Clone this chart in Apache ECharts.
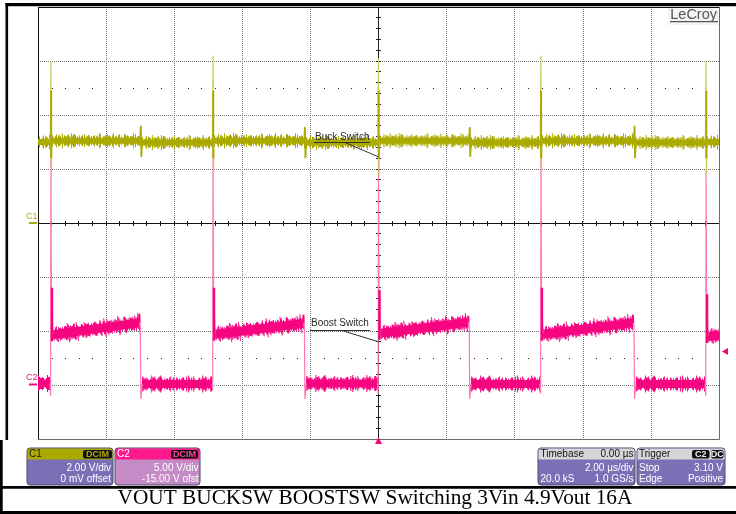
<!DOCTYPE html>
<html>
<head>
<meta charset="utf-8">
<title>VOUT BUCKSW BOOSTSW Switching 3Vin 4.9Vout 16A</title>
<script src="https://cdn.jsdelivr.net/npm/echarts@6/dist/echarts.min.js"></script>
<style>
  html, body { margin: 0; padding: 0; background: #fff; }
  #scope { width: 736px; height: 514px; }
</style>
</head>
<body>
<div id="scope"></div>
<script>
// ---- Scales: 2.00 us/div over 10 div, trigger at centre
const timeRangeUs = [-10, 10];
const timeDivUs = 2;
// C1: 2.00 V/div, 0 mV offset  -> centre = 0 V
const c1RangeV = [-8, 8];
const c1DivV = 2;
// C2: 5.00 V/div, -15.00 V offset -> centre = 15 V
const c2RangeV = [-5, 35];
const c2DivV = 5;

// ---- C2 "Boost Switch": switching edge times (us)
const c2RiseUs = [-9.62, -4.86, 0.0, 4.77, 9.62];
const c2FallUs = [-6.98, -2.16, 2.68, 7.52];
// plateau levels (V)
const c2LowV = [0.15, 0.1, 0.15, 0.1, 0.1];
const c2HighStartV = [4.65, 4.7, 4.8, 4.7, 4.5];
const c2HighEndV = [5.75, 5.7, 5.8, 5.75, 4.6];
// edge excursions (V)
const c2RisePeakV = [21.5, 21.5, 21.2, 21.5, 20.0];
const c2RiseRingV = [9.0, 9.0, 8.8, 9.0, 8.4];
const c2RiseDipV = [-1.0, -0.5, -0.8, -0.8, -1.0];
const c2FallPeakV = [6.6, 6.5, 6.4, 6.5];
const c2FallDipV = [-1.3, -1.3, -1.3, -1.3];

// ---- C1 "Buck Switch": level per interval between edges (V)
const c1LevelV = [3.0, 3.05, 2.98, 3.05, 2.98, 3.05, 2.98, 3.05, 2.98, 3.0];
const c1SpikeTopV = [6.0, 6.2, 6.1, 6.2, 6.0];
const c1SpikeLowV = [1.8, 1.8, 1.7, 1.8, 1.8];
const c1BlipTopV = [3.6, 3.55, 3.55, 3.6];
const c1BlipLowV = [2.45, 2.4, 2.45, 2.4];

// ---- Readout panels
const c1Panel = ['2.00 V/div', '0 mV offset'];
const c2Panel = ['5.00 V/div', '-15.00 V ofst'];
const timebasePanel = { head: ['Timebase', '0.00 \u00b5s'], rows: [['', '2.00 \u00b5s/div'], ['20.0 kS', '1.0 GS/s']] };
const triggerPanel = { head: ['Trigger'], badges: ['C2', 'DC'], rows: [['Stop', '3.10 V'], ['Edge', 'Positive']] };
const triggerLevelV = 3.10;
const captionText = 'VOUT BUCKSW BOOSTSW Switching 3Vin 4.9Vout 16A';

const SANS = '"Liberation Sans", Arial, sans-serif';
const SERIF = '"Liberation Serif", "Times New Roman", serif';
const C1_COL = '#aaaa00', C1_THIN = '#cbcb58';
const C2_COL = '#f70580', C2_THIN = '#ff74b6';

// irregular stroke patterns that give the trace bands a ragged, noisy edge
const DASH_DENSE = [1, 1, 2, 1, 1, 2, 1, 3, 2, 1, 1, 1, 3, 2];
const DASH_MID = [1, 3, 1, 2, 1, 5, 2, 4, 1, 2, 1, 7];
const DASH_SPARSE = [1, 6, 1, 11, 1, 4, 2, 9, 1, 15];
const DASH_RARE = [1, 19, 1, 8, 1, 27, 1, 13];

// ---------------------------------------------------------------
const chart = echarts.init(document.getElementById('scope'), null, { renderer: 'canvas' });

function linesSeries(yAxisIndex, coordsList, style, z) {
  return {
    type: 'lines', coordinateSystem: 'cartesian2d',
    xAxisIndex: 0, yAxisIndex: yAxisIndex, polyline: true,
    silent: true, animation: false, z: z || 2,
    lineStyle: Object.assign({ cap: 'butt', opacity: 1, curveness: 0 }, style),
    data: coordsList.map(c => ({ coords: c }))
  };
}

// noisy trace band: solid core plus ragged stripes around it
function bandSeries(yAxisIndex, segs, color, coreW, fringes, z) {
  const out = [linesSeries(yAxisIndex, segs, { color: color, width: coreW }, z)];
  fringes.forEach(f => out.push(linesSeries(yAxisIndex, segs,
    { color: color, width: f[0], type: f[1], dashOffset: f[2] || 0 }, z)));
  return out;
}

// C2 plateaus
const c2LowSegs = c2RiseUs.map((tr, i) => {
  const t0 = i === 0 ? timeRangeUs[0] : c2FallUs[i - 1] + 0.04;
  return [[t0, c2LowV[i]], [tr - 0.03, c2LowV[i]]];
});
const c2HighSegs = c2RiseUs.map((tr, i) => {
  const t1 = i < c2FallUs.length ? c2FallUs[i] - 0.05 : timeRangeUs[1];
  return [[tr + 0.06, c2HighStartV[i]], [t1, c2HighEndV[i]]];
});
// C2 edges
const c2RiseThin = c2RiseUs.map((t, i) => [[t - 0.03, c2LowV[i]], [t - 0.01, c2RiseDipV[i]], [t, c2RisePeakV[i]],
  [t + 0.015, c2RiseRingV[i]], [t + 0.06, c2HighStartV[i]]]);
const c2RiseRing = c2RiseUs.map((t, i) => [[t + 0.03, c2RiseRingV[i]], [t + 0.03, c2HighStartV[i] - 0.6]]);
const c2FallThin = c2FallUs.map((t, i) => [[t - 0.05, c2HighEndV[i]], [t - 0.035, c2FallPeakV[i]],
  [t - 0.015, c2HighEndV[i] - 0.5], [t, c2FallDipV[i]], [t + 0.04, c2LowV[i + 1]]]);
const c2FallSpike = c2FallUs.map((t, i) => [[t - 0.045, c2HighEndV[i]], [t - 0.045, c2FallPeakV[i]]]);

// C1 intervals between the switching events
const c1Bounds = [timeRangeUs[0]];
c2RiseUs.forEach((t, i) => { c1Bounds.push(t); if (i < c2FallUs.length) c1Bounds.push(c2FallUs[i]); });
c1Bounds.push(timeRangeUs[1]);
const c1BandSegs = c1LevelV.map((v, k) => [[c1Bounds[k], v], [c1Bounds[k + 1], v]]);
const c1SpikeThin = c2RiseUs.map((t, i) => {
  const L = c1LevelV[2 * i];
  return [[t - 0.02, L], [t, c1SpikeTopV[i]], [t + 0.012, c1SpikeLowV[i]], [t + 0.03, L]];
});
const c1SpikeCore = c2RiseUs.map(t => [[t + 0.006, 4.9], [t + 0.006, 2.4]]);
const c1Blips = c2FallUs.map((t, i) => {
  const L = c1LevelV[2 * i + 1];
  return [[t - 0.02, L], [t, c1BlipTopV[i]], [t + 0.015, c1BlipLowV[i]], [t + 0.035, L]];
});

const series = []
  .concat(bandSeries(1, c2LowSegs, C2_COL, 8, [[11, DASH_DENSE], [13, DASH_MID, 3], [15, DASH_SPARSE, 7], [17, DASH_RARE, 11]], 3))
  .concat(bandSeries(1, c2HighSegs, C2_COL, 9, [[12, DASH_DENSE, 5], [14, DASH_MID, 1], [16, DASH_SPARSE, 3], [19, DASH_RARE, 5]], 3))
  .concat([
    linesSeries(1, c2RiseThin, { color: C2_THIN, width: 1.2 }, 4),
    linesSeries(1, c2FallThin, { color: C2_THIN, width: 1.2 }, 4),
    linesSeries(1, c2RiseRing, { color: C2_COL, width: 2.4 }, 4),
    linesSeries(1, c2FallSpike, { color: C2_COL, width: 2 }, 4)
  ])
  .concat(bandSeries(0, c1BandSegs, C1_COL, 6, [[9, DASH_DENSE, 4], [11, DASH_MID, 6], [13, DASH_SPARSE, 2], [15, DASH_RARE, 9]], 5))
  .concat([
    linesSeries(0, c1SpikeThin, { color: C1_THIN, width: 1.2 }, 6),
    linesSeries(0, c1SpikeCore, { color: C1_COL, width: 2 }, 6),
    linesSeries(0, c1Blips, { color: C1_COL, width: 1.8 }, 6)
  ]);

const gridLine = { show: true, lineStyle: { color: '#707070', width: 1, type: [1, 1] } };

chart.setOption({
  backgroundColor: '#ffffff',
  animation: false,
  grid: { left: 38, top: 7, width: 681, height: 432, containLabel: false },
  xAxis: {
    type: 'value', min: timeRangeUs[0], max: timeRangeUs[1], interval: timeDivUs,
    axisLine: { show: false }, axisTick: { show: false }, axisLabel: { show: false },
    splitLine: gridLine
  },
  yAxis: [
    { type: 'value', min: c1RangeV[0], max: c1RangeV[1], interval: c1DivV,
      axisLine: { show: false }, axisTick: { show: false }, axisLabel: { show: false },
      splitLine: gridLine },
    { type: 'value', min: c2RangeV[0], max: c2RangeV[1], interval: c2DivV, show: false,
      splitLine: { show: false } }
  ],
  series: series
});

// ---- screen furniture drawn in pixel space from the axes
function px(t, v, yi) { return chart.convertToPixel({ xAxisIndex: 0, yAxisIndex: yi }, [t, v]); }
const G = [];
const [gx0, gy0] = px(timeRangeUs[0], c1RangeV[1], 0);
const [gx1, gy1] = px(timeRangeUs[1], c1RangeV[0], 0);
const [cx, cy] = px(0, 0, 0);
const crisp = v => Math.round(v - 0.5) + 0.5;

// dot rows 2.5 div above and below centre
[2.5 * c1DivV, -2.5 * c1DivV].forEach(v => {
  const y = Math.round(px(0, v, 0)[1]);
  for (let k = 1; k < 50; k++) {
    if (k % 5 === 0) continue;
    const x = Math.round(px(timeRangeUs[0] + k * timeDivUs / 5, 0, 0)[0]);
    G.push({ type: 'rect', z: 1, silent: true, shape: { x: x, y: y, width: 1, height: 1 }, style: { fill: '#222' } });
  }
});

// centre cross with minor ticks
const ccx = crisp(cx), ccy = crisp(cy);
G.push({ type: 'line', z: 1, silent: true, shape: { x1: gx0, y1: ccy, x2: gx1, y2: ccy }, style: { stroke: '#111', lineWidth: 1 } });
G.push({ type: 'line', z: 1, silent: true, shape: { x1: ccx, y1: gy0, x2: ccx, y2: gy1 }, style: { stroke: '#222', lineWidth: 1 } });
for (let k = 1; k < 50; k++) {
  const x = crisp(px(timeRangeUs[0] + k * timeDivUs / 5, 0, 0)[0]);
  G.push({ type: 'line', z: 1, silent: true, shape: { x1: x, y1: ccy - 2.5, x2: x, y2: ccy + 2.5 }, style: { stroke: '#111', lineWidth: 1 } });
}
for (let k = 1; k < 40; k++) {
  const y = crisp(px(0, c1RangeV[0] + k * c1DivV / 5, 0)[1]);
  G.push({ type: 'line', z: 1, silent: true, shape: { x1: ccx - 2.5, y1: y, x2: ccx + 2.5, y2: y }, style: { stroke: '#222', lineWidth: 1 } });
}

// graticule frame
G.push({ type: 'rect', z: 1, silent: true, shape: { x: crisp(gx0), y: crisp(gy0), width: Math.round(gx1 - gx0), height: Math.round(gy1 - gy0) },
  style: { fill: null, stroke: '#6a6a6a', lineWidth: 1 } });
G.push({ type: 'line', z: 1, silent: true, shape: { x1: crisp(gx0), y1: gy0, x2: crisp(gx0), y2: gy1 }, style: { stroke: '#111', lineWidth: 1 } });
G.push({ type: 'line', z: 1, silent: true, shape: { x1: gx0, y1: crisp(gy0), x2: gx1, y2: crisp(gy0) }, style: { stroke: '#111', lineWidth: 1 } });

// channel ground markers
const c1g = px(0, 0, 0)[1], c2g = px(0, 0, 1)[1];
G.push({ type: 'text', z: 10, silent: true, style: { text: 'C1', x: 26, y: c1g - 6.5, fill: C1_COL, font: '9px ' + SANS, verticalAlign: 'middle' } });
G.push({ type: 'rect', z: 10, silent: true, shape: { x: 29, y: c1g - 1, width: 8, height: 2 }, style: { fill: C1_COL } });
G.push({ type: 'text', z: 10, silent: true, style: { text: 'C2', x: 26, y: c2g - 7, fill: C2_COL, font: '9px ' + SANS, verticalAlign: 'middle' } });
G.push({ type: 'rect', z: 10, silent: true, shape: { x: 29, y: c2g - 1.5, width: 8, height: 2 }, style: { fill: C2_COL } });

// trigger level (right) and trigger position (bottom)
const trigY = px(0, triggerLevelV, 1)[1];
G.push({ type: 'polygon', z: 10, silent: true, shape: { points: [[gx1 + 3, trigY], [gx1 + 9, trigY - 3.5], [gx1 + 9, trigY + 3.5]] }, style: { fill: C2_COL } });
G.push({ type: 'polygon', z: 10, silent: true, shape: { points: [[cx, gy1 - 2], [cx - 3.5, gy1 + 5], [cx + 3.5, gy1 + 5]] }, style: { fill: C2_COL } });

// trace annotations
function callout(label, tx, ty, ulx1, ulx2, uly, lx1, ly1, lx2, ly2) {
  G.push({ type: 'text', z: 11, silent: true, style: { text: label, x: tx, y: ty, fill: '#2a2a2a', font: '10px ' + SANS, verticalAlign: 'bottom' } });
  G.push({ type: 'line', z: 11, silent: true, shape: { x1: ulx1, y1: uly, x2: ulx2, y2: uly }, style: { stroke: '#333', lineWidth: 1 } });
  G.push({ type: 'line', z: 11, silent: true, shape: { x1: lx1, y1: ly1, x2: lx2, y2: ly2 }, style: { stroke: '#333', lineWidth: 1 } });
}
const buckAnchor = px(0, 2.45, 0);
const boostAnchor = px(0, 4.0, 1);
callout('Buck Switch', 315, 142, 314, 370, 142.5, 345, 142.5, buckAnchor[0], buckAnchor[1]);
callout('Boost Switch', 311, 328.5, 310, 370, 330.5, 342, 330.5, boostAnchor[0], boostAnchor[1]);

// LeCroy logo
G.push({ type: 'rect', z: 10, silent: true, shape: { x: 668, y: 8, width: 50, height: 17 }, style: { fill: '#f4f4f4' } });
G.push({ type: 'text', z: 11, silent: true, style: { text: 'LeCroy', x: 717, y: 15, align: 'right', verticalAlign: 'middle', fill: '#555', font: '14.5px ' + SANS } });
G.push({ type: 'rect', z: 11, silent: true, shape: { x: 670, y: 21, width: 48, height: 1.3 }, style: { fill: '#555' } });

// readout panels
const PY = 448, PH = 37, HH = 11;
function panel(x, w, headFill, bodyFill) {
  G.push({ type: 'rect', z: 10, silent: true, shape: { x: x, y: PY, width: w, height: PH, r: 3 }, style: { fill: bodyFill, stroke: '#4a4a6a', lineWidth: 1 } });
  G.push({ type: 'rect', z: 10, silent: true, shape: { x: x + 0.5, y: PY + 0.5, width: w - 1, height: HH, r: [2.5, 2.5, 0, 0] }, style: { fill: headFill } });
}
function ptext(text, x, y, color, align, weight, size) {
  G.push({ type: 'text', z: 12, silent: true, style: { text: text, x: x, y: y, fill: color, align: align || 'left', verticalAlign: 'middle',
    font: (weight || 'normal') + ' ' + (size || 10) + 'px ' + SANS } });
}
function badge(text, x1, x2, color) {
  G.push({ type: 'rect', z: 11, silent: true, shape: { x: x1, y: PY + 2, width: x2 - x1, height: 8.5, r: 2 }, style: { fill: '#111' } });
  ptext(text, (x1 + x2) / 2, PY + 6.5, color, 'center', 'bold', 9);
}
const HEAD_Y = PY + 6, ROW1 = PY + 20.5, ROW2 = PY + 31.5;
const BODY = '#7b70b6';

panel(27, 86, C1_COL, BODY);
ptext('C1', 29, HEAD_Y, '#1a1a1a');
badge('DCIM', 83, 112, C1_COL);
ptext(c1Panel[0], 111, ROW1, '#fff', 'right');
ptext(c1Panel[1], 111, ROW2, '#fff', 'right');

panel(115, 85, '#ff1a8c', '#c58bc6');
ptext('C2', 117, HEAD_Y, '#fff');
badge('DCIM', 171, 198, '#ff3c9c');
ptext(c2Panel[0], 198.5, ROW1, '#fff', 'right');
ptext(c2Panel[1], 198.5, ROW2, '#fff', 'right');

panel(538, 97, '#d6d6d6', BODY);
ptext(timebasePanel.head[0], 540.5, HEAD_Y, '#111');
ptext(timebasePanel.head[1], 633.5, HEAD_Y, '#111', 'right');
ptext(timebasePanel.rows[0][1], 633.5, ROW1, '#fff', 'right');
ptext(timebasePanel.rows[1][0], 540.5, ROW2, '#fff');
ptext(timebasePanel.rows[1][1], 633.5, ROW2, '#fff', 'right');

panel(637, 88, '#d6d6d6', BODY);
ptext(triggerPanel.head[0], 639, HEAD_Y, '#111');
badge(triggerPanel.badges[0], 692, 709.5, '#f0f0f0');
badge(triggerPanel.badges[1], 711, 723.5, '#f0f0f0');
ptext(triggerPanel.rows[0][0], 639, ROW1, '#fff');
ptext(triggerPanel.rows[0][1], 723, ROW1, '#fff', 'right');
ptext(triggerPanel.rows[1][0], 639, ROW2, '#fff');
ptext(triggerPanel.rows[1][1], 723, ROW2, '#fff', 'right');

// page frame and caption
G.push({ type: 'rect', z: 20, silent: true, shape: { x: 5.5, y: 3, width: 731, height: 3.2 }, style: { fill: '#000' } });
G.push({ type: 'rect', z: 20, silent: true, shape: { x: 5.5, y: 3, width: 2.6, height: 437 }, style: { fill: '#000' } });
G.push({ type: 'rect', z: 20, silent: true, shape: { x: 0, y: 440, width: 2.7, height: 74 }, style: { fill: '#000' } });
G.push({ type: 'rect', z: 20, silent: true, shape: { x: 0, y: 486, width: 736, height: 2.8 }, style: { fill: '#000' } });
G.push({ type: 'rect', z: 20, silent: true, shape: { x: 0, y: 511, width: 736, height: 3 }, style: { fill: '#000' } });
G.push({ type: 'text', z: 20, silent: true, style: { text: captionText, x: 375, y: 498.5, align: 'center', verticalAlign: 'middle',
  fill: '#000', font: '21.3px ' + SERIF } });

chart.setOption({ graphic: { elements: G } });
</script>
</body>
</html>
